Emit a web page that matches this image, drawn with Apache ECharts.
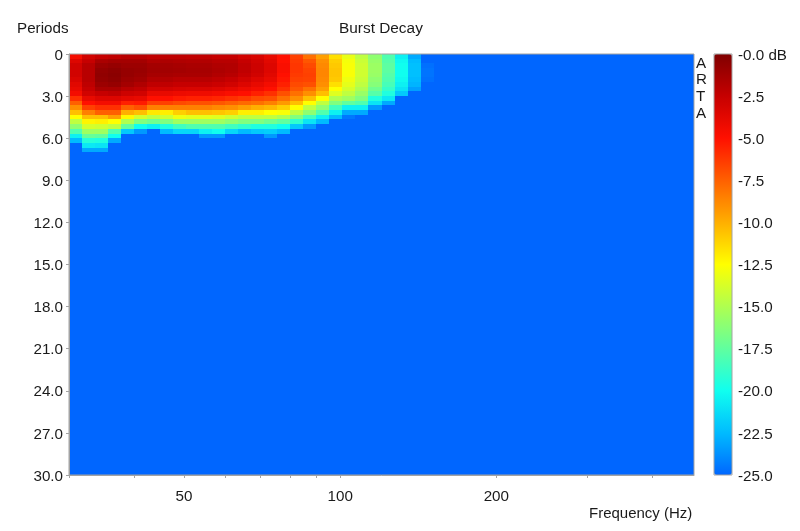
<!DOCTYPE html>
<html><head><meta charset="utf-8">
<script src="https://cdn.jsdelivr.net/npm/echarts@6/dist/echarts.min.js"></script>
<style>html,body{margin:0;background:#fff}#c{width:800px;height:531px}</style>
</head><body><div id="c"></div>
<script>
const columnCount = 48;
const rowCount = 90;
const floorDb = -25;
const freqLabels = [50,100,200];
const freqTicks = [30,40,50,60,70,80,90,100,200,300,400];
const decayColumns = [
[-4.5,-3.5,-3,-3,-3,-3.3,-3.7,-4,-4.5,-6,-7.5,-9,-10.5,-12.5,-14.5,-16,-18,-20.5,-22.5],
[-3,-2.5,-2,-2,-2,-2,-2.2,-2.5,-3,-4,-5,-6.5,-8.5,-10.5,-12.2,-13.8,-15.5,-17.3,-19.3,-20.8,-23],
[-2.5,-1.5,-1,-.7,-.6,-.7,-1,-1.5,-2.5,-3.5,-4.5,-6,-7.5,-10.5,-12,-14,-15.5,-17.5,-19.5,-21,-23],
[-2.3,-1.3,-.8,-.5,-.4,-.5,-.8,-1.5,-2.3,-3.5,-4.5,-6,-7.5,-9.5,-12.5,-14.5,-18,-20,-23],
[-2,-1.3,-1,-.8,-.8,-1,-1.3,-2,-2.8,-3.8,-5.5,-7.5,-10,-12.3,-15,-17.5,-22],
[-2,-1.3,-1,-.9,-1,-1.2,-1.7,-2.3,-3,-4,-5.3,-7,-10.5,-13.8,-16.5,-20,-23.5],
[-2.3,-1.7,-1.3,-1.2,-1.4,-1.8,-2.3,-3,-4,-5,-6.5,-8.5,-11.8,-14.5,-17,-20.5],
[-2.2,-1.6,-1.3,-1.2,-1.4,-1.8,-2.3,-3,-4,-5,-6.5,-8.5,-12,-14,-16.5,-19.5,-22.5],
[-2.2,-1.7,-1.4,-1.3,-1.5,-2,-2.5,-3.2,-4.2,-5.3,-6.8,-8.5,-11,-13,-15.5,-18.5,-21.5],
[-2.3,-1.8,-1.5,-1.4,-1.5,-2,-2.5,-3.3,-4.3,-5.5,-7,-8.5,-10.5,-13.3,-15.5,-18,-21.5],
[-2.3,-1.8,-1.5,-1.4,-1.5,-2,-2.5,-3.3,-4.3,-5.5,-7,-8.5,-10.5,-13.3,-15.5,-18,-20.5,-23.5],
[-2.5,-2,-1.7,-1.6,-1.8,-2.2,-2.7,-3.5,-4.5,-5.7,-7.2,-8.8,-10.7,-13.5,-15.5,-18,-20,-23.5],
[-2.5,-2,-1.8,-1.8,-2,-2.5,-3,-3.8,-4.8,-6,-7.5,-9,-11,-14,-16,-18.5,-21.5],
[-3,-2.5,-2.3,-2.3,-2.5,-3,-3.5,-4.2,-5,-6.3,-7.8,-9.5,-12,-14.5,-16.5,-19,-22.5],
[-3.3,-3,-2.8,-2.8,-3,-3.5,-4,-4.5,-5.5,-6.8,-8,-10,-12,-14.5,-16.5,-19.5,-22],
[-4,-3.7,-3.5,-3.5,-3.7,-4,-4.5,-5,-6,-7,-8.5,-10.3,-12.5,-14.5,-17,-19.5,-21.8,-23.5],
[-5,-5,-4.8,-4.8,-5,-5.2,-5.5,-6,-7,-8,-9.3,-11,-12.7,-15,-17.5,-20,-22.5],
[-6.5,-6.3,-6.2,-6.2,-6.3,-6.5,-6.8,-7.2,-8,-9,-10.5,-12.5,-14.5,-16.5,-19,-22],
[-8,-7.2,-6.8,-6.6,-6.5,-6.6,-7,-8,-9,-10.5,-12.5,-14.5,-16,-18.5,-21,-23.5],
[-9.5,-9,-8.8,-8.7,-8.7,-8.8,-9,-9.5,-10.5,-12.5,-14.5,-16,-18,-20.5,-22.5],
[-11.5,-11,-10.8,-10.7,-10.7,-10.8,-11.5,-12.5,-13.5,-15,-16.5,-18.5,-20.5,-22.5],
[-13.2,-12.8,-12.7,-12.7,-12.7,-13,-13.3,-13.8,-14.5,-15.5,-17.5,-20.5,-23,-24.5],
[-14.5,-14.2,-14,-14,-14,-14.2,-14.5,-15,-15.7,-16.5,-18,-20.5,-23],
[-16,-15.8,-15.6,-15.6,-15.7,-16,-16.3,-17,-17.8,-19.5,-21,-23.5],
[-18,-17.8,-17.6,-17.6,-17.8,-18,-18.3,-18.8,-19.5,-20.8,-23],
[-20.5,-20.2,-20,-20,-20,-20.2,-20.5,-21,-22],
[-23,-22.5,-22.3,-22.3,-22.3,-22.5,-22.7,-23.3],
[-25,-25,-24.7,-24.6,-24.6,-24.7]
];
const colorStops = ['#0066ff','#00bbff','#10ffef','#60ff9f','#afff50','#ffff00','#ffaf00','#ff6000','#ff1000','#c60000','#800000'];

const cells = [];
for (let c = 0; c < columnCount; c++) {
  const col = decayColumns[c] || [];
  for (let r = 0; r < rowCount; r++) cells.push([c, r, r < col.length ? col[r] : floorDb]);
}
const font = 'Liberation Sans';
const text = {fontFamily: font, fontSize: 15.2, color: '#1a1a1a'};
const grey = '#a3a3a3';
const hiddenAxis = {show:false};
const chart = echarts.init(document.getElementById('c'), null, {renderer:'canvas'});
chart.setOption({
  animation:false,
  backgroundColor:'#fff',
  title:[
    {text:'Burst Decay',left:339,top:21,padding:0,textStyle:{...text,fontWeight:'normal',fontSize:15.4}},
    {text:'Periods',left:17,top:21,padding:0,textStyle:{...text,fontWeight:'normal'}},
    {text:'Frequency (Hz)',left:589,top:506,padding:0,textStyle:{...text,fontWeight:'normal',fontSize:15}},
    {text:'A\nR\nT\nA',left:696,top:55,padding:0,textStyle:{...text,fontWeight:'normal',lineHeight:16.8}}
  ],
  grid:[
    {left:69,top:54,width:625,height:421,show:true,borderColor:grey,borderWidth:1,backgroundColor:'transparent',z:5},
    {left:714,top:54,width:18,height:421,show:true,borderColor:grey,borderWidth:1,backgroundColor:'transparent',z:5}
  ],
  xAxis:[
    {type:'category',gridIndex:0,data:Array.from({length:columnCount},(_,i)=>i),...hiddenAxis},
    {type:'log',gridIndex:0,position:'bottom',min:30,max:481,z:6,splitLine:{show:false},minorTick:{show:false},
      axisLine:{show:true,lineStyle:{color:grey}},
      axisTick:{show:true,length:3,inside:false,lineStyle:{color:grey},customValues:freqTicks},
      axisLabel:{...text,margin:14,customValues:freqLabels,showMinLabel:true,showMaxLabel:true,hideOverlap:false,interval:0,formatter:v=>String(Math.round(v))}},
    {type:'value',gridIndex:1,min:0,max:1,show:false}
  ],
  yAxis:[
    {type:'category',gridIndex:0,inverse:true,data:Array.from({length:rowCount},(_,i)=>i),...hiddenAxis},
    {type:'value',gridIndex:0,inverse:true,min:0,max:30,interval:3,position:'left',z:6,splitLine:{show:false},
      axisLine:{show:true,lineStyle:{color:grey}},
      axisTick:{show:true,length:3,lineStyle:{color:grey}},
      axisLabel:{...text,margin:6,verticalAlign:'top',lineHeight:3,formatter:v=>v===0?'0':v.toFixed(1)}},
    {type:'value',gridIndex:1,min:-25,max:0,interval:2.5,position:'right',splitLine:{show:false},
      axisLine:{show:false},axisTick:{show:false},
      axisLabel:{...text,margin:6,verticalAlign:'top',lineHeight:3,formatter:v=>v===0?'-0.0 dB':v.toFixed(1)}}
  ],
  visualMap:{type:'continuous',seriesIndex:0,dimension:2,min:floorDb,max:0,left:714,top:54,itemWidth:18,itemHeight:421,
    padding:0,orient:'vertical',calculable:false,realtime:false,hoverLink:false,showLabel:false,text:['',''],textGap:0,
    inRange:{color:colorStops}},
  series:[{type:'custom',xAxisIndex:0,yAxisIndex:0,data:cells,silent:true,encode:{x:0,y:1,tooltip:2},
    clip:true,progressive:0,
    renderItem:function(params,api){
      const p = api.coord([api.value(0),api.value(1)]);
      const s = api.size([1,1]);
      const x0 = Math.round(p[0]-s[0]/2), x1 = Math.round(p[0]+s[0]/2);
      const y0 = Math.round(p[1]-s[1]/2), y1 = Math.round(p[1]+s[1]/2);
      return {type:'rect',shape:{x:x0,y:y0,width:x1-x0,height:y1-y0},style:{fill:api.visual('color')}};
    }}]
});
</script></body></html>
